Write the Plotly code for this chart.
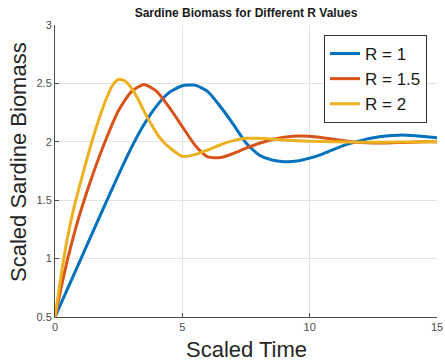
import plotly.graph_objects as go

# Scaled time samples and readings for each R value
t_r1 = [0, 0.5, 1, 1.5, 2, 2.5, 3, 3.5, 4, 4.5, 5, 5.5, 6, 6.5, 7, 7.5, 8, 8.5, 9, 9.5,
        10, 10.5, 11, 11.5, 12, 12.5, 13, 13.5, 14, 14.5, 15]
y_r1 = [0.5, 0.745, 0.99, 1.235, 1.48, 1.72, 1.95, 2.15, 2.31, 2.425, 2.48, 2.485, 2.43,
        2.30, 2.15, 1.99, 1.89, 1.845, 1.83, 1.835, 1.86, 1.895, 1.94, 1.98, 2.01, 2.035,
        2.05, 2.057, 2.055, 2.045, 2.035]

t_r15 = [0, 0.25, 0.5, 0.75, 1, 1.5, 2, 2.5, 3, 3.5, 4, 4.5, 5, 5.5, 6, 6.5, 7, 7.5,
         8, 8.5, 9, 9.5, 10, 10.5, 11, 11.5, 12, 12.5, 13, 13.5, 14, 14.5, 15]
y_r15 = [0.5, 0.76, 1.0, 1.21, 1.4, 1.73, 2.02, 2.27, 2.43, 2.49, 2.43, 2.29, 2.13, 1.97,
         1.87, 1.865, 1.90, 1.945, 1.985, 2.017, 2.04, 2.05, 2.048, 2.035, 2.02,
         2.005, 1.995, 1.99, 1.99, 1.993, 1.997, 2.0, 2.0]

t_r2 = [0, 0.25, 0.5, 0.75, 1, 1.25, 1.5, 1.75, 2, 2.25, 2.5, 2.75, 3, 3.25, 3.5, 3.75, 4,
        4.25, 4.5, 5, 5.5, 6, 6.5, 7, 7.5, 8, 8.5, 9, 9.5, 10, 11, 12, 13, 14, 15]
y_r2 = [0.5, 0.87, 1.19, 1.44, 1.65, 1.85, 2.04, 2.21, 2.36, 2.48, 2.535, 2.52, 2.46,
        2.37, 2.26, 2.16, 2.07, 2.0, 1.95, 1.875, 1.89, 1.93, 1.975, 2.01, 2.03, 2.03,
        2.025, 2.015, 2.01, 2.005, 2.0, 1.997, 1.997, 1.999, 2.0]

series = [
    ("R = 1", t_r1, y_r1, "#0072BD"),
    ("R = 1.5", t_r15, y_r15, "#D95319"),
    ("R = 2", t_r2, y_r2, "#EDB120"),
]

x_ticks = [0, 5, 10, 15]
y_ticks = [0.5, 1, 1.5, 2, 2.5, 3]
y_tick_text = ["0.5", "1", "1.5", "2", "2.5", "3"]

FONT = "Liberation Sans, Arial, Helvetica, sans-serif"
L, R, T, B = 55, 8, 25, 46
W, H = 445, 363
PW, PH = W - L - R, H - T - B

fig = go.Figure()
for name, t, y, c in series:
    fig.add_trace(go.Scatter(x=t, y=y, mode="lines", name=name,
                             line=dict(color=c, width=3, shape="spline", smoothing=0.6)))

axis_common = dict(showgrid=True, gridcolor="#e3e3e3", gridwidth=1, zeroline=False,
                   showline=True, linecolor="#4d4d4d", linewidth=1,
                   ticks="inside", ticklen=4, tickcolor="#4d4d4d",
                   tickfont=dict(size=11, color="#4d4d4d"), automargin=False)

fig.update_layout(
    width=W, height=H,
    margin=dict(l=L, r=R, t=T, b=B),
    paper_bgcolor="white", plot_bgcolor="white",
    font=dict(family=FONT, color="#262626"),
    title=dict(text="<b>Sardine Biomass for Different R Values</b>",
               x=(L + W - R) / 2 / W, xanchor="center", y=1 - 13 / H, yanchor="middle",
               font=dict(size=12, color="#1a1a1a")),
    showlegend=True,
    legend=dict(x=(427 - L) / PW, xanchor="right", y=(H - B - 35) / PH, yanchor="top",
                bgcolor="white", bordercolor="#333333", borderwidth=1,
                font=dict(size=17, color="#1a1a1a"), tracegroupgap=0,
                itemwidth=30),
    xaxis=dict(range=[0, 15], tickvals=x_ticks, ticktext=[str(v) for v in x_ticks],
               **axis_common),
    yaxis=dict(range=[0.5, 3], tickvals=y_ticks, ticktext=y_tick_text,
               **axis_common),
    annotations=[
        dict(text="Scaled Time", xref="paper", yref="paper",
             x=0.5, y=-(349 - (H - B)) / PH, xanchor="center", yanchor="middle",
             showarrow=False, font=dict(size=22, color="#262626")),
        dict(text="Scaled Sardine Biomass", xref="paper", yref="paper",
             x=(18 - L) / PW, y=((H - B) - 162) / PH, xanchor="center", yanchor="middle",
             textangle=-90, showarrow=False, font=dict(size=22, color="#262626")),
    ],
)

fig.write_html("out.html", config={"displayModeBar": False},
               post_script="document.body.style.margin='0';document.body.style.overflow='hidden';")
